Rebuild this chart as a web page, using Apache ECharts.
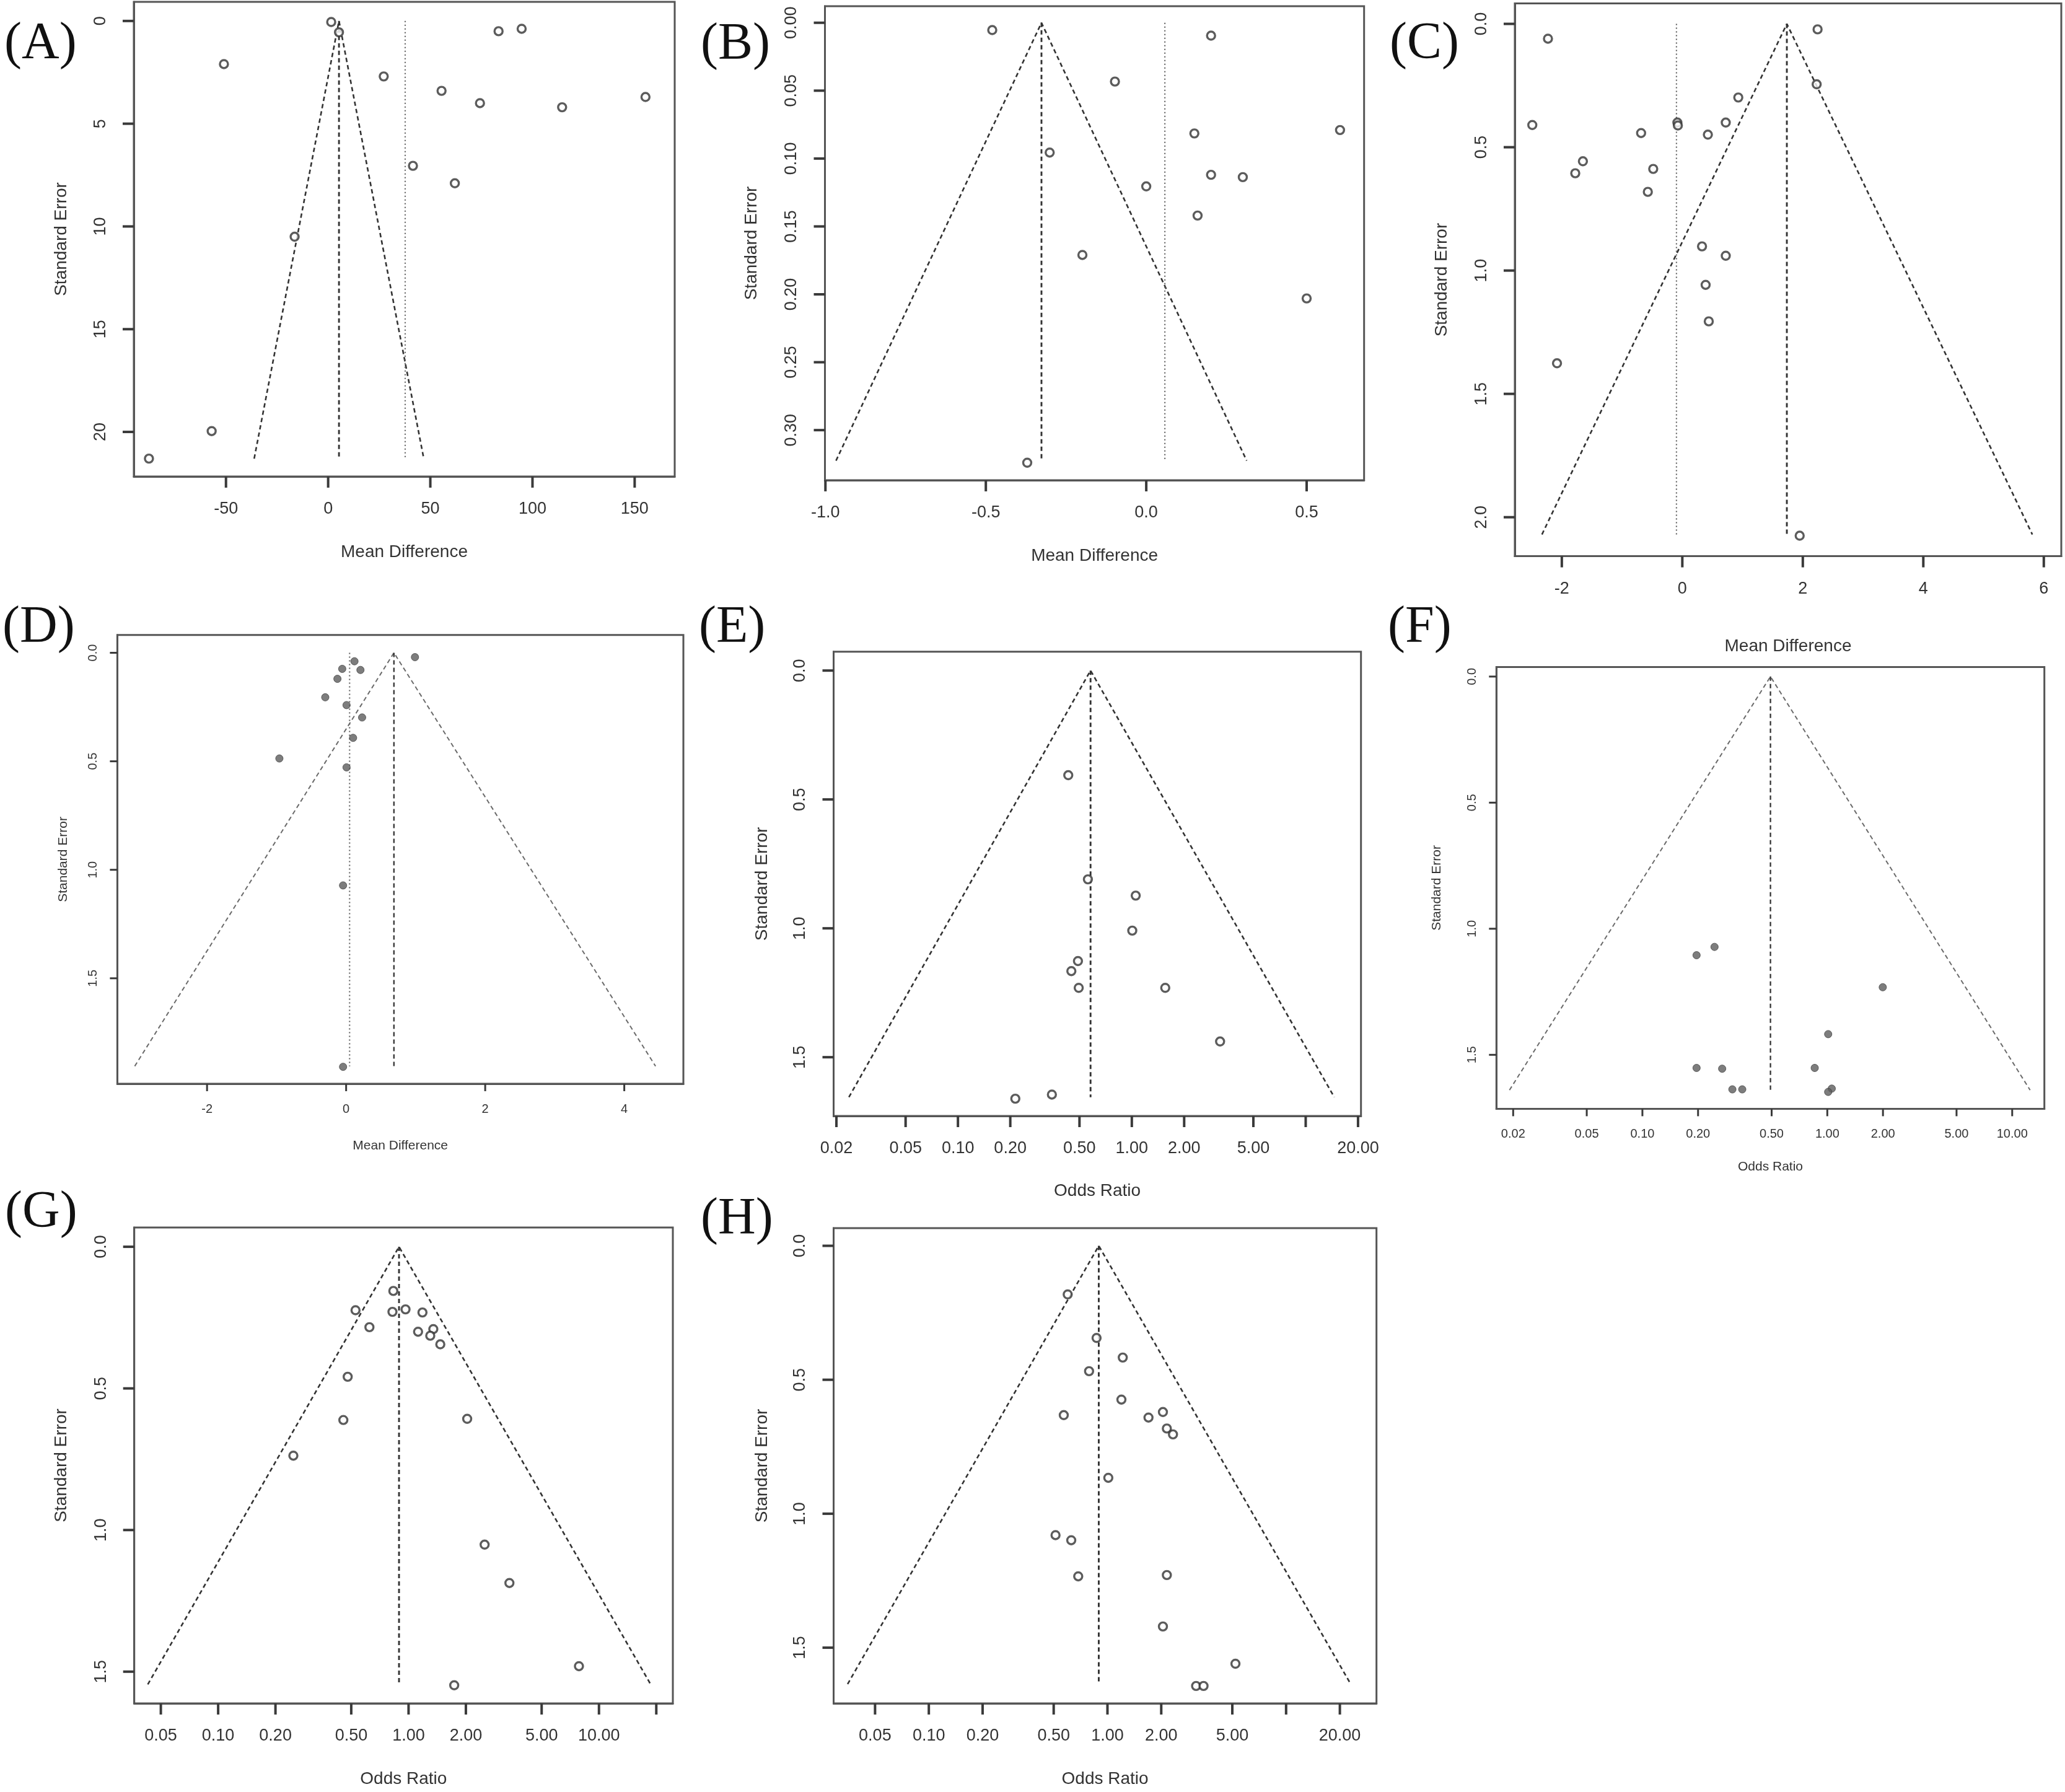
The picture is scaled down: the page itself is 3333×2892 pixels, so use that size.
<!DOCTYPE html>
<html>
<head>
<meta charset="utf-8">
<script src="https://cdn.jsdelivr.net/npm/echarts@6/dist/echarts.min.js"></script>
<style>
  html, body { margin: 0; padding: 0; background: #ffffff; }
  #chart { width: 3333px; height: 2892px; }
</style>
</head>
<body>
<div id="chart"></div>
<script>
// ---------------- DATA ----------------
// (A) Mean Difference vs Standard Error
const aX  = [1.5, 5.3, -51, 27.2, 83.4, 94.7, 55.5, 74.3, 114.5, 155.3, 41.5, 62, -16.4, -57, -87.7];
const aSE = [0.05, 0.55, 2.1, 2.7, 0.5, 0.38, 3.4, 4.0, 4.2, 3.7, 7.05, 7.9, 10.5, 19.96, 21.3];
const aXTicks = [-50, 0, 50, 100, 150];
const aYTicks = [0, 5, 10, 15, 20];
const aFunnel = [-36.2, 5.3, 46.8, 21.3];   // left x at max SE, apex x, right x at max SE, max SE
const aRef = [37.7];

// (B)
const bX  = [-0.48, 0.202, -0.0976, 0.150, 0.604, -0.301, 0.202, 0.301, 0.0, 0.16, -0.199, 0.5, -0.371];
const bSE = [0.0054, 0.0095, 0.0433, 0.0815, 0.079, 0.0956, 0.112, 0.1137, 0.1205, 0.142, 0.171, 0.203, 0.324];
const bXTicks = [-1.0, -0.5, 0.0, 0.5];
const bYTicks = [0, 0.05, 0.10, 0.15, 0.20, 0.25, 0.30];
const bFunnel = [-0.967, -0.3266, 0.313, 0.3225];
const bRef = [0.058];

// (C)
const cX  = [2.245, -2.23, 2.23, 0.929, -2.49, -0.082, -0.074, 0.721, -0.684, 0.424, -1.65, -1.777, -0.483, -0.5725, 0.327, 0.721, 0.387, 0.439, -2.08, 1.948];
const cSE = [0.0223, 0.060, 0.245, 0.2985, 0.41, 0.40, 0.412, 0.40, 0.4425, 0.449, 0.557, 0.6055, 0.588, 0.681, 0.902, 0.94, 1.058, 1.206, 1.376, 2.075];
const cXTicks = [-2, 0, 2, 4, 6];
const cYTicks = [0, 0.5, 1.0, 1.5, 2.0];
const cFunnel = [-2.33, 1.735, 5.81, 2.07];
const cRef = [-0.097];

// (D)
const dX  = [0.99, 0.12, -0.056, 0.206, -0.125, -0.3, 0.006, 0.23, 0.1, -0.96, 0.006, -0.044, -0.044];
const dSE = [0.02, 0.039, 0.074, 0.079, 0.12, 0.205, 0.241, 0.298, 0.392, 0.487, 0.528, 1.072, 1.908];
const dXTicks = [-2, 0, 2, 4];
const dYTicks = [0, 0.5, 1.0, 1.5];
const dFunnel = [-3.04, 0.6875, 4.45, 1.905];
const dRef = [0.05];

// (E) Odds Ratio (log scale)
const eOR = [0.431, 0.559, 1.053, 1.006, 0.49, 0.449, 0.495, 1.557, 3.218, 0.347, 0.2138];
const eSE = [0.406, 0.81, 0.873, 1.009, 1.127, 1.166, 1.231, 1.231, 1.439, 1.645, 1.661];
const eXTicks  = [0.02, 0.05, 0.10, 0.20, 0.50, 1.00, 2.00, 5.00, 10.00, 20.00];
const eXLabels = [0.02, 0.05, 0.10, 0.20, 0.50, 1.00, 2.00, 5.00, 20.00];
const eYTicks = [0, 0.5, 1.0, 1.5];
const eFunnel = [0.0236, 0.579, 14.6, 1.655];

// (F)
const fOR = [0.2455, 0.1963, 1.995, 1.011, 0.1963, 0.27, 0.855, 0.3066, 0.3467, 1.057, 1.011];
const fSE = [1.072, 1.105, 1.232, 1.418, 1.552, 1.555, 1.552, 1.637, 1.637, 1.634, 1.647];
const fXTicks  = [0.02, 0.05, 0.10, 0.20, 0.50, 1.00, 2.00, 5.00, 10.00];
const fXLabels = [0.02, 0.05, 0.10, 0.20, 0.50, 1.00, 2.00, 5.00, 10.00];
const fYTicks = [0, 0.5, 1.0, 1.5];
const fFunnel = [0.0191, 0.4927, 12.5, 1.64];

// (G)
const gOR = [0.832, 0.5266, 0.823, 0.964, 1.183, 0.623, 1.122, 1.349, 1.300, 1.468, 0.479, 0.4545, 2.032, 0.2483, 2.509, 3.386, 7.85, 1.737];
const gSE = [0.156, 0.224, 0.2297, 0.221, 0.232, 0.284, 0.300, 0.2906, 0.314, 0.3445, 0.459, 0.6116, 0.6074, 0.7375, 1.0516, 1.187, 1.4806, 1.548];
const gXTicks  = [0.05, 0.10, 0.20, 0.50, 1.00, 2.00, 5.00, 10.00, 20.00];
const gXLabels = [0.05, 0.10, 0.20, 0.50, 1.00, 2.00, 5.00, 10.00];
const gYTicks = [0, 0.5, 1.0, 1.5];
const gFunnel = [0.0427, 0.891, 18.69, 1.545];

// (H)
const hOR = [0.599, 0.869, 1.218, 0.789, 1.197, 0.5694, 1.697, 2.044, 2.150, 2.327, 1.011, 0.512, 0.627, 0.686, 2.150, 2.044, 5.205, 3.135, 3.45];
const hSE = [0.1815, 0.344, 0.417, 0.468, 0.574, 0.632, 0.641, 0.6205, 0.682, 0.704, 0.866, 1.080, 1.099, 1.2337, 1.229, 1.421, 1.560, 1.643, 1.643];
const hXTicks  = [0.05, 0.10, 0.20, 0.50, 1.00, 2.00, 5.00, 10.00, 20.00];
const hXLabels = [0.05, 0.10, 0.20, 0.50, 1.00, 2.00, 5.00, 20.00];
const hYTicks = [0, 0.5, 1.0, 1.5];
const hFunnel = [0.0351, 0.894, 23.0, 1.636];

const panelLetters = ['(A)', '(B)', '(C)', '(D)', '(E)', '(F)', '(G)', '(H)'];
const xTitles = ['Mean Difference', 'Mean Difference', 'Mean Difference', 'Mean Difference',
                 'Odds Ratio', 'Odds Ratio', 'Odds Ratio', 'Odds Ratio'];
const yTitle = 'Standard Error';

// ---------------- BUILD ----------------
const SANS = '"Liberation Sans", Arial, Helvetica, sans-serif';
const SERIF = '"Liberation Serif", "Times New Roman", serif';
const L10 = Math.log10;

const panels = [
  { box: [216, 3, 1089, 769], x: [-95.1, 169.6], y: [-0.93, 22.17],
    xt: aXTicks, xl: aXTicks, xd: 0, yt: aYTicks, yd: 0, log: false,
    px: aX, ps: aSE, fun: aFunnel, ref: aRef, small: false,
    letter: [7, 74], xTitleY: 891, yTitleX: 99 },
  { box: [1331.5, 10, 2201.7, 775], x: [-1.0015, 0.679], y: [-0.0122, 0.3369],
    xt: bXTicks, xl: bXTicks, xd: 1, yt: bYTicks, yd: 2, log: false,
    px: bX, ps: bSE, fun: bFunnel, ref: bRef, small: false,
    letter: [1131, 75], xTitleY: 897, yTitleX: 1213 },
  { box: [2445, 5.5, 3327, 897.6], x: [-2.78, 6.29], y: [-0.083, 2.158],
    xt: cXTicks, xl: cXTicks, xd: 0, yt: cYTicks, yd: 1, log: false,
    px: cX, ps: cSE, fun: cFunnel, ref: cRef, small: false,
    letter: [2243, 74], xTitleY: 1043, yTitleX: 2327 },
  { box: [189.4, 1024.8, 1103, 1749], x: [-3.29, 4.85], y: [-0.082, 1.986],
    xt: dXTicks, xl: dXTicks, xd: 0, yt: dYTicks, yd: 1, log: false,
    px: dX, ps: dSE, fun: dFunnel, ref: dRef, small: true,
    letter: [4, 1016], xTitleY: 1849, yTitleX: 102 },
  { box: [1345.5, 1051.8, 2196.7, 1801], x: [-1.715, 1.318], y: [-0.073, 1.728],
    xt: eXTicks, xl: eXLabels, xd: 2, yt: eYTicks, yd: 1, log: true,
    px: eOR, ps: eSE, fun: eFunnel, ref: null, small: false,
    letter: [1128, 1016], xTitleY: 1922, yTitleX: 1230 },
  { box: [2415.3, 1076.4, 3299.7, 1789.4], x: [-1.7895, 1.174], y: [-0.038, 1.714],
    xt: fXTicks, xl: fXLabels, xd: 2, yt: fYTicks, yd: 1, log: true,
    px: fOR, ps: fSE, fun: fFunnel, ref: null, small: true,
    letter: [2240, 1016], xTitleY: 1883, yTitleX: 2319 },
  { box: [216.7, 1981, 1086, 2749], x: [-1.4406, 1.388], y: [-0.068, 1.612],
    xt: gXTicks, xl: gXLabels, xd: 2, yt: gYTicks, yd: 1, log: true,
    px: gOR, ps: gSE, fun: gFunnel, ref: null, small: false,
    letter: [8, 1960], xTitleY: 2871, yTitleX: 99 },
  { box: [1345.5, 1982, 2221.7, 2749], x: [-1.533, 1.506], y: [-0.066, 1.708],
    xt: hXTicks, xl: hXLabels, xd: 2, yt: hYTicks, yd: 1, log: true,
    px: hOR, ps: hSE, fun: hFunnel, ref: null, small: false,
    letter: [1131, 1971], xTitleY: 2871, yTitleX: 1230 }
];

const grids = [], xAxes = [], yAxes = [], series = [], graphics = [];
const BOX = '#555555';
const TICK = '#3a3a3a';

panels.forEach((p, i) => {
  const [L, T, R, B] = p.box;
  const tx = p.log ? (v => L10(v)) : (v => v);
  const tickFs = p.small ? 20 : 27;
  const titleFs = p.small ? 21 : 28;

  grids.push({ left: L, top: T, width: R - L, height: B - T, show: true,
    borderColor: BOX, borderWidth: 3, backgroundColor: 'transparent' });

  xAxes.push({
    gridIndex: i, type: 'value', position: 'bottom', min: p.x[0], max: p.x[1],
    axisLine: { show: true, onZero: false, lineStyle: { color: BOX, width: 3 } },
    splitLine: { show: false },
    axisTick: { show: false },
    axisLabel: { show: true, customValues: p.xl.map(tx),
      margin: p.small ? 31 : 39, fontSize: tickFs, fontFamily: SANS, color: '#333',
      formatter: v => p.log ? Math.pow(10, v).toFixed(p.xd) : (Math.abs(v) < 1e-9 ? 0 : v).toFixed(p.xd) }
  });

  yAxes.push({
    gridIndex: i, type: 'value', position: 'left', inverse: true, min: p.y[0], max: p.y[1],
    axisLine: { show: true, onZero: false, lineStyle: { color: BOX, width: 3 } },
    splitLine: { show: false },
    axisTick: { show: false },
    axisLabel: { show: true, customValues: p.yt, rotate: 90,
      margin: p.small ? 29 : 40, fontSize: tickFs, fontFamily: SANS, color: '#333',
      formatter: v => v.toFixed(p.yd) }
  });

  const lineCol = p.small ? '#6a6a6a' : '#333';
  const lineW = p.small ? 2 : 2.6;
  const f = p.fun;
  // funnel (two sides through apex)
  series.push({ type: 'line', xAxisIndex: i, yAxisIndex: i, symbol: 'none', silent: true, z: 2,
    data: [[tx(f[0]), f[3]], [tx(f[1]), 0], [tx(f[2]), f[3]]],
    lineStyle: { color: lineCol, width: lineW, type: [7, 5] } });
  // centre line
  series.push({ type: 'line', xAxisIndex: i, yAxisIndex: i, symbol: 'none', silent: true, z: 2,
    data: [[tx(f[1]), 0], [tx(f[1]), f[3]]],
    lineStyle: { color: '#333', width: lineW + 0.3, type: [7, 5] } });
  // dotted reference line
  if (p.ref) {
    series.push({ type: 'line', xAxisIndex: i, yAxisIndex: i, symbol: 'none', silent: true, z: 2,
      data: [[tx(p.ref[0]), 0], [tx(p.ref[0]), f[3]]],
      lineStyle: { color: '#666', width: 2.2, type: [2, 4] } });
  }
  // study points
  series.push({ type: 'scatter', xAxisIndex: i, yAxisIndex: i, z: 3,
    data: p.px.map((v, k) => [tx(v), p.ps[k]]),
    symbol: 'circle', symbolSize: p.small ? 12 : 13,
    itemStyle: p.small
      ? { color: '#5c5c5c', borderColor: '#444', borderWidth: 1 }
      : { color: '#ffffff', borderColor: '#333', borderWidth: 3.4 } });

  // panel letter
  graphics.push({ type: 'text', left: p.letter[0], top: p.letter[1] - 44,
    style: { text: panelLetters[i], font: `84px ${SERIF}`, fill: '#111' } });
  // x title
  graphics.push({ type: 'text', x: (L + R) / 2, y: p.xTitleY,
    style: { text: xTitles[i], font: `${titleFs}px ${SANS}`, fill: '#333',
      align: 'center', verticalAlign: 'middle' } });
  // y title
  graphics.push({ type: 'text', x: p.yTitleX, y: (T + B) / 2, rotation: Math.PI / 2,
    style: { text: yTitle, font: `${titleFs}px ${SANS}`, fill: '#333',
      align: 'center', verticalAlign: 'middle' } });
});

const chart = echarts.init(document.getElementById('chart'), null, { renderer: 'canvas', width: 3333, height: 2892 });
chart.setOption({
  backgroundColor: '#ffffff',
  animation: false,
  grid: grids,
  xAxis: xAxes,
  yAxis: yAxes,
  series: series,
  graphic: graphics
});

// Outward tick marks: positions come from the axes' own scales (convertToPixel)
const tickGraphics = [];
panels.forEach((p, i) => {
  const tx = p.log ? (v => L10(v)) : (v => v);
  const len = p.small ? 12 : 18;
  const w = p.small ? 3 : 4;
  p.xt.forEach(v => {
    const pt = chart.convertToPixel({ gridIndex: i }, [tx(v), p.y[1]]);
    if (!pt) return;
    tickGraphics.push({ type: 'rect', silent: true, z: 100,
      shape: { x: pt[0] - w / 2, y: pt[1], width: w, height: len },
      style: { fill: TICK } });
  });
  p.yt.forEach(v => {
    const pt = chart.convertToPixel({ gridIndex: i }, [p.x[0], v]);
    if (!pt) return;
    tickGraphics.push({ type: 'rect', silent: true, z: 100,
      shape: { x: pt[0] - len, y: pt[1] - w / 2, width: len, height: w },
      style: { fill: TICK } });
  });
});
chart.setOption({ graphic: graphics.concat(tickGraphics) });
</script>
</body>
</html>
